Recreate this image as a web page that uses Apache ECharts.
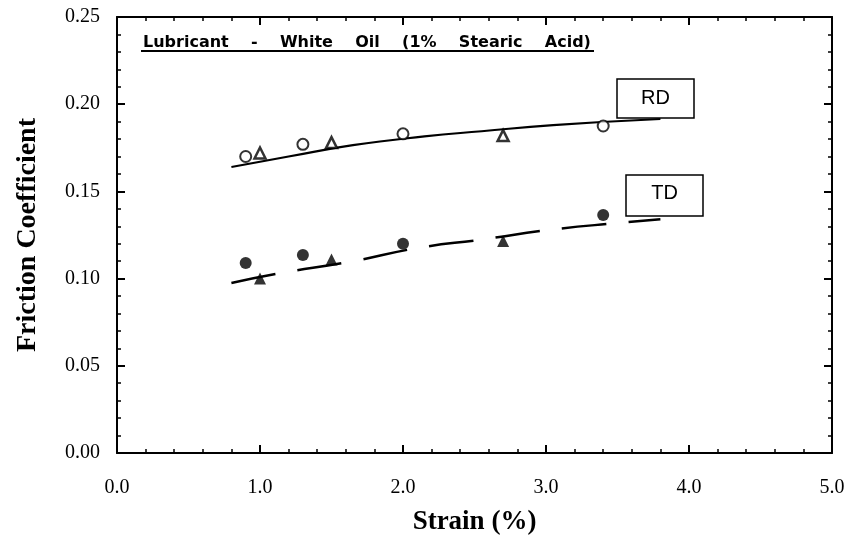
<!DOCTYPE html>
<html>
<head>
<meta charset="utf-8">
<script src="https://cdn.jsdelivr.net/npm/echarts@6/dist/echarts.min.js"></script>
<style>html,body{margin:0;padding:0;background:#fff;}#c{width:854px;height:536px;}</style>
</head>
<body>
<div id="c"></div>
<script>
// Data
var xTicks = [0, 1, 2, 3, 4, 5];
var yTicks = [0, 0.05, 0.10, 0.15, 0.20, 0.25];
var rdCircles = [[0.9, 0.170], [1.3, 0.177], [2.0, 0.183], [3.4, 0.1875]];
var rdTriangles = [[1.0, 0.172], [1.5, 0.178], [2.7, 0.182]];
var tdCircles = [[0.9, 0.109], [1.3, 0.1135], [2.0, 0.120], [3.4, 0.1365]];
var tdTriangles = [[1.0, 0.100], [1.5, 0.111], [2.7, 0.1216]];
var rdFit = [[0.80, 0.164], [1.2, 0.170], [1.65, 0.1765], [2.15, 0.1815], [2.55, 0.1845], [3.05, 0.188], [3.8, 0.1915]];
var tdFit = [[0.80, 0.0975], [1.13, 0.103], [1.62, 0.1095], [2.10, 0.1175], [2.56, 0.1225], [3.03, 0.128], [3.52, 0.132], [3.8, 0.134]];
var titleText = 'Lubricant    -    White    Oil    (1%    Stearic    Acid)';

var chart = echarts.init(document.getElementById('c'), null, {renderer: 'canvas'});
var serif = '"Liberation Serif", "Times New Roman", serif';
function axisCommon(showLabel) {
  return {
    axisLine: {show: true, onZero: false, lineStyle: {color: '#000', width: 2}},
    axisTick: {show: true, inside: true, length: 8, lineStyle: {color: '#000', width: 2}},
    minorTick: {show: true, splitNumber: 5, length: 4, lineStyle: {color: '#000', width: 1.5}},
    splitLine: {show: false},
    axisLabel: {show: showLabel, color: '#000', fontFamily: serif, fontSize: 20}
  };
}
var xBottom = Object.assign(axisCommon(true), {
  type: 'value', position: 'bottom', min: xTicks[0], max: xTicks[xTicks.length - 1], interval: 1,
  name: 'Strain (%)', nameLocation: 'middle', nameGap: 56,
  nameTextStyle: {fontFamily: serif, fontWeight: 'bold', fontSize: 27, color: '#000'}
});
xBottom.axisLabel.margin = 25;
xBottom.axisLabel.formatter = function (v) { return v.toFixed(1); };
var xTop = Object.assign(axisCommon(false), {
  type: 'value', position: 'top', min: xTicks[0], max: xTicks[xTicks.length - 1], interval: 1
});
var yLeft = Object.assign(axisCommon(true), {
  type: 'value', position: 'left', min: yTicks[0], max: yTicks[yTicks.length - 1], interval: 0.05,
  name: 'Friction Coefficient', nameLocation: 'middle', nameGap: 75,
  nameTextStyle: {fontFamily: serif, fontWeight: 'bold', fontSize: 28, color: '#000'}
});
yLeft.axisLabel.margin = 17;
yLeft.axisLabel.formatter = function (v) { return v.toFixed(2); };
var yRight = Object.assign(axisCommon(false), {
  type: 'value', position: 'right', min: yTicks[0], max: yTicks[yTicks.length - 1], interval: 0.05
});

chart.setOption({
  animation: false,
  backgroundColor: '#fff',
  grid: {left: 117, right: 22, top: 17, bottom: 83, outerBoundsMode: 'none', containLabel: false},
  xAxis: [xBottom, xTop],
  yAxis: [yLeft, yRight],
  series: [
    {type: 'line', data: rdFit, smooth: true, showSymbol: false, symbol: 'none',
     lineStyle: {color: '#000', width: 2.2}, z: 2},
    {type: 'line', data: tdFit, smooth: true, showSymbol: false, symbol: 'none',
     lineStyle: {color: '#000', width: 2.5, type: [45, 22]}, z: 2},
    {type: 'scatter', data: rdCircles, symbol: 'circle', symbolSize: 11,
     itemStyle: {color: '#fff', borderColor: '#000', borderWidth: 2}, z: 3},
    {type: 'scatter', data: rdTriangles, symbol: 'triangle', symbolSize: 11,
     itemStyle: {color: '#fff', borderColor: '#000', borderWidth: 2.5}, z: 3},
    {type: 'scatter', data: tdCircles, symbol: 'circle', symbolSize: 12,
     itemStyle: {color: '#000'}, z: 3},
    {type: 'scatter', data: tdTriangles, symbol: 'triangle', symbolSize: 12,
     itemStyle: {color: '#000'}, z: 3}
  ],
  graphic: [
    {type: 'text', left: 143, top: 35, z: 10,
     style: {text: titleText, fontFamily: '"DejaVu Sans", sans-serif', fontWeight: 'bold', fontSize: 16, fill: '#000'}},
    {type: 'line', z: 10, shape: {x1: 141, y1: 51, x2: 594, y2: 51}, style: {stroke: '#000', lineWidth: 2}},
    {type: 'rect', z: 10, shape: {x: 617, y: 79, width: 77, height: 39},
     style: {fill: '#fff', stroke: '#000', lineWidth: 1.5}},
    {type: 'text', z: 11, x: 655.5, y: 98.5,
     style: {text: 'RD', fontFamily: '"Liberation Sans", Arial, sans-serif', fontSize: 20, fill: '#000', align: 'center', verticalAlign: 'middle'}},
    {type: 'rect', z: 10, shape: {x: 626, y: 175, width: 77, height: 41},
     style: {fill: '#fff', stroke: '#000', lineWidth: 1.5}},
    {type: 'text', z: 11, x: 664.5, y: 193,
     style: {text: 'TD', fontFamily: '"Liberation Sans", Arial, sans-serif', fontSize: 20, fill: '#000', align: 'center', verticalAlign: 'middle'}}
  ]
});
</script>
</body>
</html>
